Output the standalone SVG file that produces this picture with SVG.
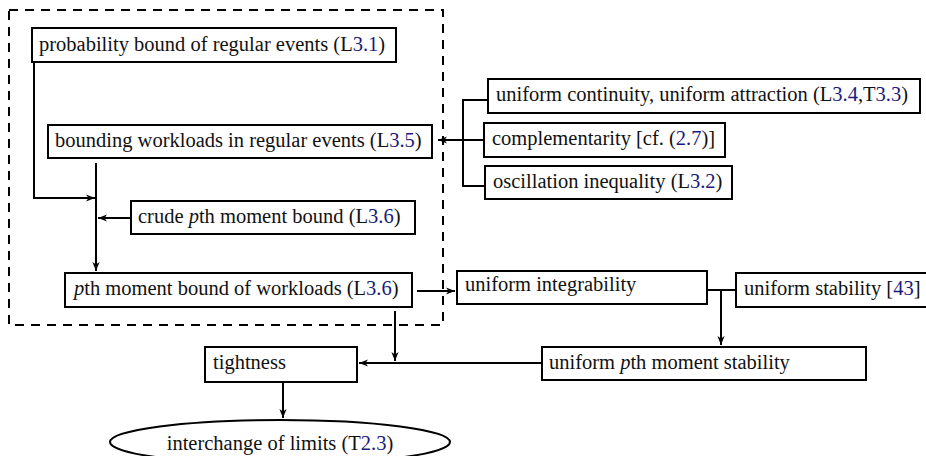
<svg xmlns="http://www.w3.org/2000/svg" width="926" height="456" viewBox="0 0 926 456">
<defs>
<style>
text{font-family:"Liberation Serif","Times New Roman",serif;font-size:20.5px;fill:#111}
.ref{fill:#1a1a80}
.it{font-style:italic}
.box{fill:#fff;stroke:#000;stroke-width:2}
.c{fill:none;stroke:#000;stroke-width:2}
.dash{fill:none;stroke:#000;stroke-width:2;stroke-dasharray:9 7}
</style>
<marker id="arr" markerUnits="userSpaceOnUse" markerWidth="12" markerHeight="10" viewBox="-10 -5 12 10" refX="0" refY="0" orient="auto">
<path d="M0,0 L-9,-3.6 L-6.5,0 L-9,3.6 Z" fill="#000"/>
</marker>
</defs>
<rect class="dash" x="9" y="10" width="434" height="315"/>
<g id="connectors">
<polyline class="c" points="34,62 34,198 95,198" marker-end="url(#arr)"/>
<line class="c" x1="96" y1="163" x2="96" y2="271" marker-end="url(#arr)"/>
<line class="c" x1="131" y1="218" x2="98" y2="218" marker-end="url(#arr)"/>
<polyline class="c" points="488,100 463,100 463,186 485,186"/>
<line class="c" x1="484" y1="140" x2="438" y2="140" marker-end="url(#arr)"/>
<line class="c" x1="417" y1="291" x2="455" y2="291" marker-end="url(#arr)"/>
<line class="c" x1="707" y1="290" x2="736" y2="290"/>
<line class="c" x1="721" y1="290" x2="721" y2="345" marker-end="url(#arr)"/>
<line class="c" x1="395" y1="311" x2="395" y2="361" marker-end="url(#arr)"/>
<line class="c" x1="542" y1="363" x2="359" y2="363" marker-end="url(#arr)"/>
<line class="c" x1="283" y1="383" x2="283" y2="418" marker-end="url(#arr)"/>
</g>
<g id="n-prob"><rect class="box" x="32" y="28" width="364" height="34"/><text x="39" y="51">probability bound of regular events (L<tspan class="ref">3.1</tspan>)</text></g>
<g id="n-bound"><rect class="box" x="48" y="125" width="384" height="33"/><text x="55" y="147">bounding workloads in regular events (L<tspan class="ref">3.5</tspan>)</text></g>
<g id="n-crude"><rect class="box" x="131" y="201" width="284" height="33"/><text x="138" y="223">crude <tspan class="it">p</tspan>th moment bound (L<tspan class="ref">3.6</tspan>)</text></g>
<g id="n-pth"><rect class="box" x="65" y="273" width="347" height="34"/><text x="74" y="295"><tspan class="it">p</tspan>th moment bound of workloads (L<tspan class="ref">3.6</tspan>)</text></g>
<g id="n-tight"><rect class="box" x="205" y="347" width="152" height="35"/><text x="213" y="369">tightness</text></g>
<g id="n-ucont"><rect class="box" x="488" y="79" width="432" height="34"/><text x="496" y="101">uniform continuity, uniform attraction (L<tspan class="ref">3.4</tspan>,T<tspan class="ref">3.3</tspan>)</text></g>
<g id="n-comp"><rect class="box" x="484" y="123" width="241" height="34"/><text x="492" y="145">complementarity [cf. (<tspan class="ref">2.7</tspan>)]</text></g>
<g id="n-osc"><rect class="box" x="485" y="166" width="247" height="33"/><text x="493" y="188">oscillation inequality (L<tspan class="ref">3.2</tspan>)</text></g>
<g id="n-ui"><rect class="box" x="457" y="271" width="250" height="33"/><text x="465" y="291">uniform integrability</text></g>
<g id="n-us"><rect class="box" x="736" y="273" width="200" height="34"/><text x="744" y="295">uniform stability [<tspan class="ref">43</tspan>]</text></g>
<g id="n-upms"><rect class="box" x="542" y="347" width="324" height="33"/><text x="549" y="369">uniform <tspan class="it">p</tspan>th moment stability</text></g>
<g id="n-inter"><ellipse class="box" cx="280" cy="442" rx="170" ry="22"/><text x="280" y="450" text-anchor="middle">interchange of limits (T<tspan class="ref">2.3</tspan>)</text></g>
</svg>
